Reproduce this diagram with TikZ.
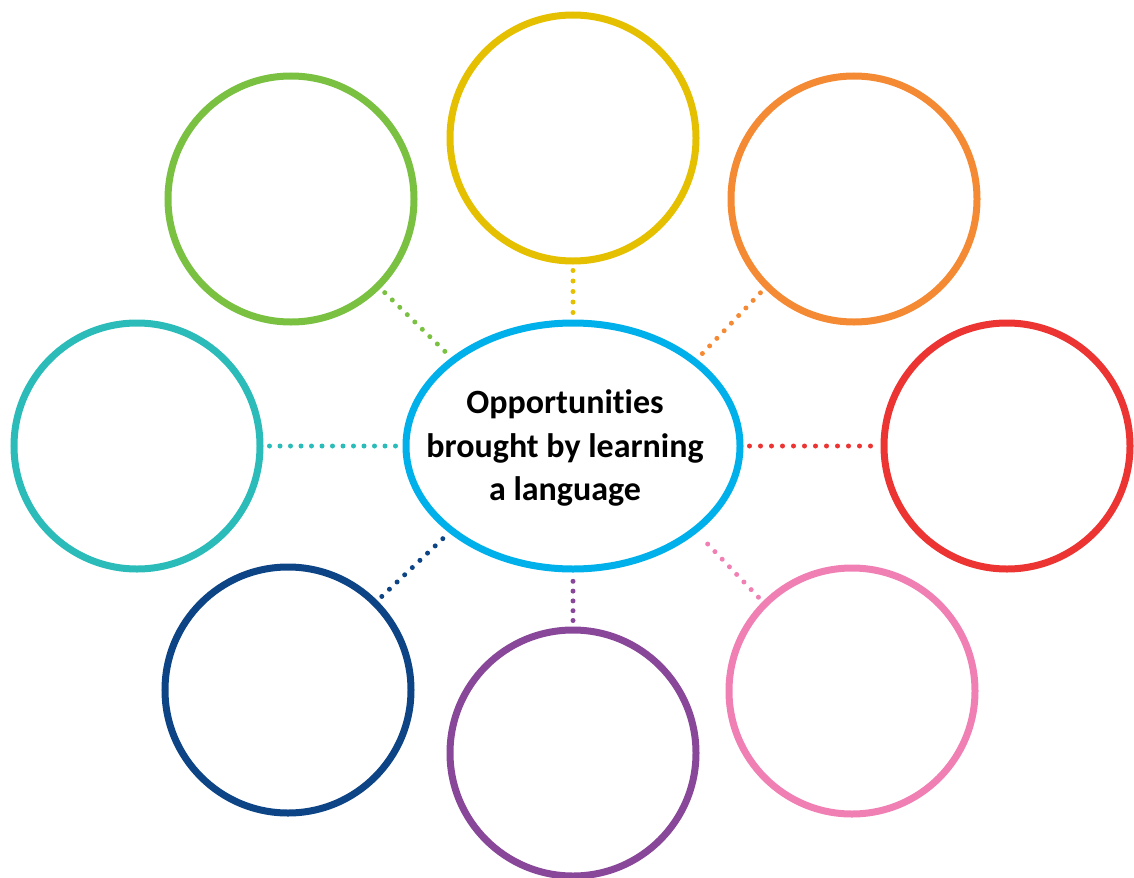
\documentclass[tikz,border=0pt]{standalone}
\usepackage{fontspec}
\setmainfont[RawFeature=-liga]{Carlito}
\usetikzlibrary{shapes.geometric}
\definecolor{cyellow}{RGB}{228,192,0}
\definecolor{cgreen}{RGB}{122,193,66}
\definecolor{corange}{RGB}{245,138,52}
\definecolor{cteal}{RGB}{43,188,185}
\definecolor{cred}{RGB}{236,52,50}
\definecolor{cnavy}{RGB}{12,68,134}
\definecolor{cpurple}{RGB}{137,71,153}
\definecolor{cpink}{RGB}{240,128,180}
\definecolor{cblue}{RGB}{0,176,234}
\tikzset{
  bubble/.style={circle, draw, line width=7bp, minimum size=246bp, inner sep=0pt},
  hub/.style={ellipse, draw=cblue, line width=7bp, minimum width=334bp, minimum height=246bp, inner sep=0pt},
  dotline/.style={line width=5bp, line cap=round, dash pattern=on 0pt off 10.5bp, shorten <=6bp, shorten >=6bp}
}
\begin{document}
\begin{tikzpicture}[x=1bp,y=-1bp]
\useasboundingbox (0,0) rectangle (1134,878);
\node[hub] (ell) at (573,446) {};
\node[font=\bfseries\fontsize{34bp}{43.5bp}\selectfont, align=center] (title) at (565,448) {Opportunities\\brought by learning\\a language};
\node[bubble, draw=cyellow] (yellow) at (573,138) {};
\node[bubble, draw=cgreen] (green) at (291,199) {};
\node[bubble, draw=corange] (orange) at (854,199) {};
\node[bubble, draw=cteal] (teal) at (137,446) {};
\node[bubble, draw=cred] (red) at (1007,446) {};
\node[bubble, draw=cnavy] (navy) at (288,690) {};
\node[bubble, draw=cpurple] (purple) at (573,753) {};
\node[bubble, draw=cpink] (pink) at (852,691) {};
\draw[dotline, cyellow] (yellow.south) -- (ell.north);
\draw[dotline, cgreen] (green.-45) -- (ell.144.5);
\draw[dotline, corange] (orange.225) -- (ell.35.5);
\draw[dotline, cteal] (teal.east) -- (ell.west);
\draw[dotline, cred, dash pattern=on 0pt off 11bp] (ell.east) -- (red.west);
\draw[dotline, cpurple, dash pattern=on 0pt off 9.8bp] (purple.north) -- (ell.south);
\draw[dotline, cnavy] (navy.45) -- (ell.215.5);
\draw[dotline, cpink] (pink.135) -- (ell.-35.5);
\end{tikzpicture}
\end{document}
